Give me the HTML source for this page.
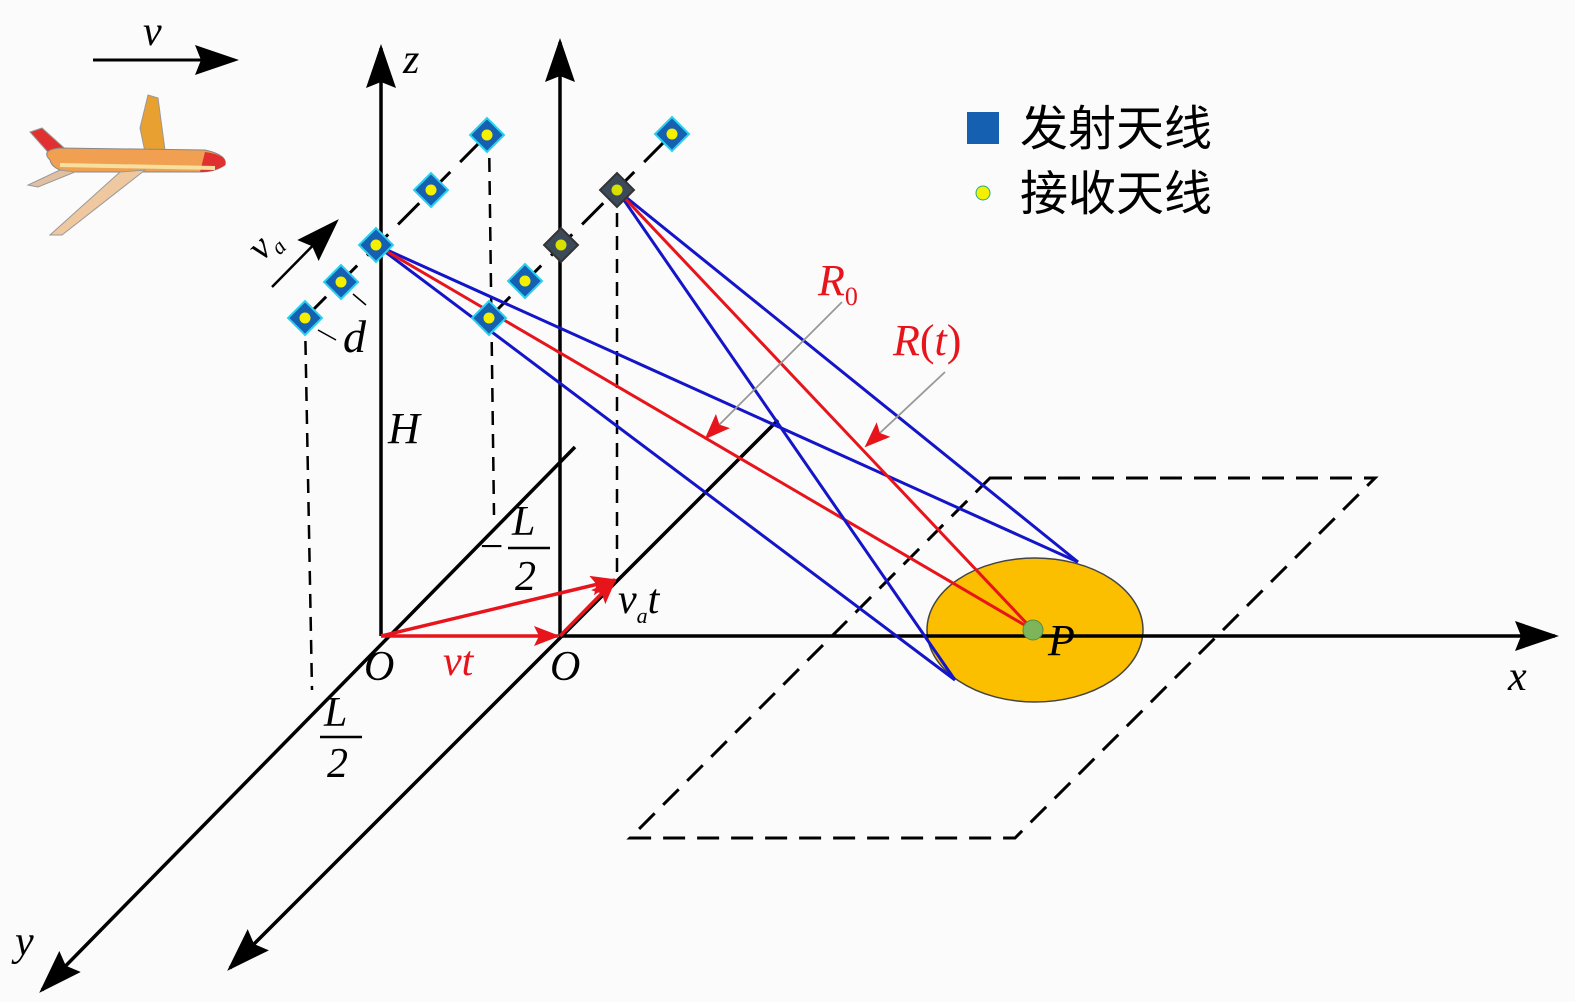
<!DOCTYPE html>
<html><head><meta charset="utf-8"><style>
html,body{margin:0;padding:0;background:#fbfbfb;}
svg{display:block}
text{font-family:"Liberation Serif","Noto Serif CJK SC",serif;font-style:italic}
.cn{font-family:"Liberation Sans","Noto Sans CJK SC",sans-serif;font-style:normal}
</style></head><body>
<svg width="1575" height="1002" viewBox="0 0 1575 1002" xmlns="http://www.w3.org/2000/svg">
<defs>
<marker id="ab" markerWidth="44" markerHeight="30" refX="40" refY="15" orient="auto" markerUnits="userSpaceOnUse" viewBox="0 0 44 30"><path d="M0,0 L44,15 L0,30 L6,15z" fill="#000"/></marker>
<marker id="ar" markerWidth="26" markerHeight="20" refX="24" refY="10" orient="auto" markerUnits="userSpaceOnUse" viewBox="0 0 26 20"><path d="M0,0 L26,10 L0,20 L5,10z" fill="#e8141c"/></marker>
<g id="ant"><rect x="-12" y="-12" width="24" height="24" transform="rotate(45)" fill="#1560b0" stroke="#2ad0f0" stroke-width="2"/><circle r="5.5" fill="#f4f000"/></g>
<g id="antd"><rect x="-12" y="-12" width="24" height="24" transform="rotate(45)" fill="#3a4a58" stroke="#333" stroke-width="2"/><circle r="5.5" fill="#d8e000"/></g>
</defs>
<g stroke="#000" stroke-width="3" stroke-dasharray="22,12" fill="none">
<path d="M990,478 L1375,478 L1015,838 L630,838 Z"/>
</g>
<ellipse cx="1035" cy="630" rx="108" ry="72" fill="#fbbf00" stroke="#444" stroke-width="1.5"/>
<g stroke="#000" stroke-width="3.5" fill="none">
<line x1="381" y1="636" x2="381" y2="48" marker-end="url(#ab)"/>
<line x1="560" y1="636" x2="560" y2="42" marker-end="url(#ab)"/>
<line x1="560" y1="636" x2="1555" y2="636" marker-end="url(#ab)"/>
<line x1="575" y1="447" x2="42" y2="990" marker-end="url(#ab)"/>
<line x1="778" y1="420" x2="230" y2="968" marker-end="url(#ab)"/>
</g>
<g stroke="#000" stroke-width="2.5" stroke-dasharray="14,9" fill="none">
<line x1="305" y1="318" x2="312" y2="690"/>
<line x1="489" y1="135" x2="494" y2="515"/>
<line x1="617" y1="190" x2="617" y2="572"/>
</g>
<g stroke="#000" stroke-width="3" stroke-dasharray="30,14">
<line x1="305" y1="318" x2="487" y2="135"/>
<line x1="489" y1="318" x2="672" y2="134"/>
</g>
<g stroke-width="3" fill="none">
<line x1="376" y1="245" x2="1078" y2="562" stroke="#1414c8"/>
<line x1="376" y1="245" x2="955" y2="680" stroke="#1414c8"/>
<line x1="376" y1="245" x2="1033" y2="630" stroke="#e8141c"/>
<line x1="617" y1="190" x2="1078" y2="562" stroke="#1414c8"/>
<line x1="617" y1="190" x2="955" y2="680" stroke="#1414c8"/>
<line x1="617" y1="190" x2="1033" y2="630" stroke="#e8141c"/>
</g>
<circle cx="1033" cy="630" r="10" fill="#7fb55a" stroke="#5a8a40"/>
<use href="#ant" x="305" y="318"/><use href="#ant" x="341" y="282"/><use href="#ant" x="376" y="245"/><use href="#ant" x="431" y="190"/><use href="#ant" x="487" y="135"/>
<use href="#ant" x="489" y="318"/><use href="#ant" x="525" y="281"/><use href="#antd" x="561" y="245"/><use href="#antd" x="617" y="190"/><use href="#ant" x="672" y="134"/>
<g stroke="#e8141c" stroke-width="3.5" fill="none">
<line x1="381" y1="636" x2="558" y2="636" marker-end="url(#ar)"/>
<line x1="381" y1="636" x2="615" y2="580" marker-end="url(#ar)"/>
<line x1="560" y1="636" x2="615" y2="580" marker-end="url(#ar)"/>
</g>
<g stroke="#999" stroke-width="1.8" fill="none">
<line x1="842" y1="302" x2="706" y2="438" marker-end="url(#ar)"/>
<line x1="945" y1="372" x2="866" y2="446" marker-end="url(#ar)"/>
</g>
<line x1="93" y1="60" x2="235" y2="60" stroke="#000" stroke-width="3" marker-end="url(#ab)"/>
<text x="143" y="45" font-size="42">v</text>
<line x1="272" y1="287" x2="336" y2="222" stroke="#000" stroke-width="2.5" marker-end="url(#ab)"/>
<text transform="translate(262,262) rotate(-45)" font-size="38">v<tspan font-size="22" dy="8">a</tspan></text>
<g stroke="#000" stroke-width="1.5"><line x1="318" y1="330" x2="336" y2="340"/><line x1="353" y1="294" x2="366" y2="305"/></g>
<text x="343" y="352" font-size="46">d</text>
<g>
<path d="M140,128 L148,95 L158,98 L165,150 L145,152Z" fill="#e8a030" stroke="#999"/>
<path d="M30,132 L42,128 L72,155 L55,160Z" fill="#e03030" stroke="#999"/>
<path d="M50,160 Q40,150 60,148 L205,150 Q228,155 225,165 Q215,172 200,172 L70,172 Q52,170 50,160Z" fill="#f0a050" stroke="#888"/>
<path d="M205,152 Q228,155 225,165 Q215,172 200,172Z" fill="#e03030"/>
<path d="M60,165 L215,168" stroke="#f5e0a0" stroke-width="4"/>
<path d="M120,172 L145,170 L62,235 L50,235Z" fill="#f0c8a0" stroke="#999"/>
<path d="M60,170 L28,185 L38,187 L75,172Z" fill="#e0c0a0" stroke="#999"/>
</g>
<text x="403" y="73" font-size="42">z</text>
<text x="1508" y="690" font-size="42">x</text>
<text x="15" y="955" font-size="42">y</text>
<text x="364" y="680" font-size="42">O</text>
<text x="550" y="680" font-size="42">O</text>
<text x="388" y="443" font-size="44">H</text>
<text x="443" y="675" font-size="42" fill="#e8141c">vt</text>
<text x="618" y="613" font-size="42">v<tspan font-size="22" dy="10">a</tspan><tspan dy="-10">t</tspan></text>
<text x="1048" y="655" font-size="44">P</text>
<text x="818" y="295" font-size="44" fill="#e8141c">R<tspan font-size="26" dy="10" font-style="normal">0</tspan></text>
<text x="893" y="355" font-size="44" fill="#e8141c">R<tspan font-style="normal">(</tspan>t<tspan font-style="normal">)</tspan></text>
<text x="477" y="560" font-size="42" font-style="normal">−</text>
<text x="512" y="535" font-size="42">L</text>
<line x1="508" y1="548" x2="550" y2="548" stroke="#000" stroke-width="2.5"/>
<text x="515" y="590" font-size="42" font-style="normal">2</text>
<text x="324" y="726" font-size="42">L</text>
<line x1="320" y1="737" x2="362" y2="737" stroke="#000" stroke-width="2.5"/>
<text x="327" y="777" font-size="42" font-style="normal">2</text>
<rect x="967" y="112" width="32" height="32" fill="#1560b0"/>
<text class="cn" x="1020" y="145" font-size="48">发射天线</text>
<circle cx="983" cy="193" r="7" fill="#f4f000" stroke="#2a8" stroke-width="1"/>
<text class="cn" x="1020" y="210" font-size="48">接收天线</text>
</svg>
</body></html>
